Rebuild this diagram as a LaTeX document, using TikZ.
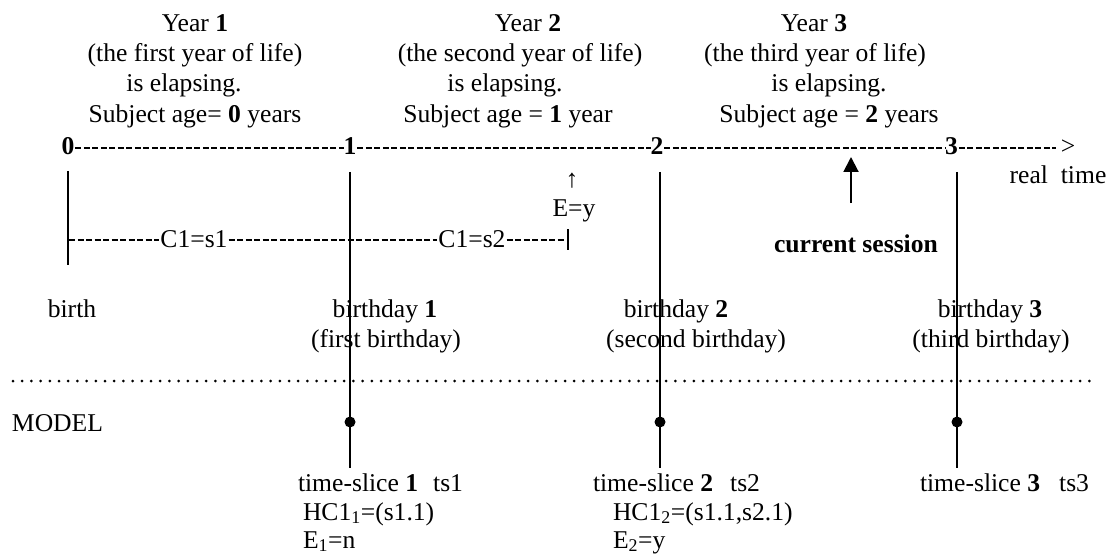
\documentclass[tikz,border=0pt]{standalone}
\usepackage{fontspec}
\setmainfont{Liberation Serif}
\usetikzlibrary{arrows.meta}
\begin{document}
\begin{tikzpicture}[x=1pt,y=-1pt,
  every node/.style={font=\fontsize{25.6}{30}\selectfont, inner sep=0pt, outer sep=0pt},
  txt/.style={anchor=base},
  ltxt/.style={anchor=base west},
  axisdash/.style={line width=1.2pt, dash pattern=on 6pt off 2.5pt},
  vline/.style={line width=1.9pt},
  thinbar/.style={line width=1.1pt},
  dotline/.style={line width=3pt, line cap=round, dash pattern=on 0pt off 9.2pt},
  tsdot/.style={circle, fill=black, minimum size=11pt, inner sep=0pt},
  sessarrow/.style={line width=2pt, -{Triangle[length=15pt,width=15pt]}}
]
\useasboundingbox (0,0) rectangle (1107,556);

% header texts
\node[txt] (y1a) at (195,32) {Year \textbf{1}};
\node[txt] (y1b) at (195,62) {(the first year of life)};
\node[txt] (y1c) at (184,92) {is elapsing.};
\node[txt] (y1d) at (195,123) {Subject age= \textbf{0} years};
\node[txt] (y2a) at (528,32) {Year \textbf{2}};
\node[txt] (y2b) at (520,62) {(the second year of life)};
\node[txt] (y2c) at (505,92) {is elapsing.};
\node[txt] (y2d) at (508,123) {Subject age = \textbf{1} year};
\node[txt] (y3a) at (814,32) {Year \textbf{3}};
\node[txt] (y3b) at (815,62) {(the third year of life)};
\node[txt] (y3c) at (829,92) {is elapsing.};
\node[txt] (y3d) at (829,123) {Subject age = \textbf{2} years};

% axis
\coordinate (ax) at (0,148);
\node[txt] (n0) at (68,155) {\textbf{0}};
\node[txt] (n1) at (350,155) {\textbf{1}};
\node[txt] (n2) at (657,155) {\textbf{2}};
\node[txt] (n3) at (951.5,155) {\textbf{3}};
\node[txt] (gt) at (1068,155) {>};
\draw[axisdash] ([xshift=1pt]n0.east |- ax) -- (n1.west |- ax);
\draw[axisdash] ([xshift=1pt]n1.east |- ax) -- (n2.west |- ax);
\draw[axisdash] ([xshift=1pt]n2.east |- ax) -- (n3.west |- ax);
\draw[axisdash] ([xshift=1pt]n3.east |- ax) -- ([xshift=-5pt]gt.west |- ax);
\node[txt] (rt) at (1058,183) {real\ \ time};

% vertical lines
\coordinate (b0t) at (68,171);
\coordinate (b0b) at (68,265);
\draw[vline] (b0t) -- (b0b);
\coordinate (b1t) at (350,172);
\coordinate (b1b) at (350,468);
\coordinate (b2t) at (660,172);
\coordinate (b2b) at (660,468);
\coordinate (b3t) at (957,172);
\coordinate (b3b) at (957,468);
\draw[vline] (b1t) -- (b1b);
\draw[vline] (b2t) -- (b2b);
\draw[vline] (b3t) -- (b3b);
\node[tsdot] (d1) at (350,422) {};
\node[tsdot] (d2) at (660,422) {};
\node[tsdot] (d3) at (957,422) {};

% C1 line
\coordinate (c1y) at (0,240);
\coordinate (c1start) at (69,240);
\node[txt] (cs1) at (194,247) {C1=s1};
\node[txt] (cs2) at (472,247) {C1=s2};
\coordinate (c1end) at (565,240);
\draw[axisdash] (c1start) -- ([xshift=-1pt]cs1.west |- c1y);
\draw[axisdash] ([xshift=1pt]cs1.east |- c1y) -- ([xshift=-1pt]cs2.west |- c1y);
\draw[axisdash] ([xshift=1pt]cs2.east |- c1y) -- (c1end);
\coordinate (barT) at (568,229);
\coordinate (barB) at (568,250);
\draw[thinbar] (barT) -- (barB);

% E=y
\node[txt] (up) at (572,187) {↑};
\node[txt] (ey) at (574,216) {E=y};

% current session
\coordinate (csb) at (851,203);
\coordinate (cst) at (851,157);
\draw[sessarrow] (csb) -- (cst);
\node[txt] (cs) at (856,252) {\textbf{current session}};

% birthdays
\node[txt] (birth) at (72,317) {birth};
\node[txt] (bd1) at (385,317) {birthday \textbf{1}};
\node[txt] (bd1b) at (386,347) {(first birthday)};
\node[txt] (bd2) at (676,317) {birthday \textbf{2}};
\node[txt] (bd2b) at (696,347) {(second birthday)};
\node[txt] (bd3) at (990,317) {birthday \textbf{3}};
\node[txt] (bd3b) at (991,347) {(third birthday)};

% dotted separator
\coordinate (dl) at (13,381);
\coordinate (dr) at (1093,381);
\draw[dotline] (dl) -- (dr);

% model
\node[ltxt] (model) at (12,431) {MODEL};
\node[ltxt] (ts1) at (298,491) {time-slice \textbf{1}\hspace{15pt}ts1};
\node[ltxt] (hc1) at (303,520) {HC1\textsubscript{1}=(s1.1)};
\node[ltxt] (e1) at (303,548) {E\textsubscript{1}=n};
\node[ltxt] (ts2) at (593,491) {time-slice \textbf{2}\hspace{17pt}ts2};
\node[ltxt] (hc2) at (613,520) {HC1\textsubscript{2}=(s1.1,s2.1)};
\node[ltxt] (e2) at (613,548) {E\textsubscript{2}=y};
\node[ltxt] (ts3) at (920,491) {time-slice \textbf{3}\hspace{19pt}ts3};
\end{tikzpicture}
\end{document}
